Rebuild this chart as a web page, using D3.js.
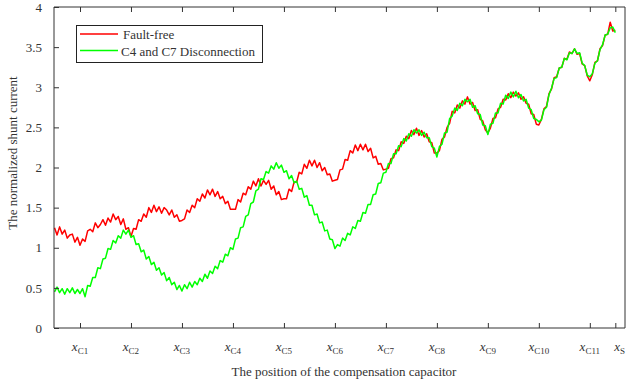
<!DOCTYPE html>
<html>
<head>
<meta charset="utf-8">
<script src="https://cdn.jsdelivr.net/npm/d3@7/dist/d3.min.js"></script>
<style>
  html, body { margin: 0; padding: 0; background: #fff; }
  svg { display: block; }
  text { font-family: "Liberation Serif", "Times New Roman", serif; fill: #333; }
</style>
</head>
<body>
<svg id="chart" width="626" height="382"></svg>
<script>
// Normalized shunt current sampled along the line, every 0.05 of a capacitor spacing,
// starting half a spacing before x_C1.
const sampleStart = 0.5;
const sampleStep = 0.05;

const faultFree = [
  1.25,1.16,1.26,1.17,1.22,1.12,1.16,1.17,1.07,1.13,1.03,1.11,1.08,1.21,1.23,1.20,1.31,1.25,1.29,1.35,
  1.28,1.37,1.32,1.42,1.35,1.39,1.29,1.36,1.23,1.25,1.14,1.24,1.23,1.35,1.33,1.42,1.38,1.50,1.44,1.53,
  1.45,1.51,1.43,1.50,1.47,1.41,1.47,1.38,1.41,1.33,1.34,1.36,1.47,1.44,1.53,1.50,1.61,1.58,1.67,1.62,
  1.72,1.66,1.73,1.64,1.70,1.61,1.64,1.55,1.58,1.48,1.48,1.48,1.60,1.57,1.68,1.66,1.76,1.73,1.83,1.77,
  1.86,1.77,1.84,1.79,1.84,1.73,1.77,1.66,1.70,1.60,1.61,1.61,1.73,1.70,1.82,1.82,1.94,1.92,2.04,1.99,
  2.09,2.02,2.09,2.00,2.06,1.96,2.00,1.91,1.92,1.83,1.84,1.85,1.97,1.98,2.10,2.09,2.21,2.18,2.28,2.21,
  2.29,2.22,2.29,2.20,2.24,2.12,2.14,2.04,2.05,1.97,1.98,1.99,2.11,2.12,2.22,2.21,2.32,2.30,2.39,2.36,
  2.46,2.41,2.49,2.40,2.46,2.38,2.42,2.32,2.31,2.18,2.18,2.21,2.35,2.38,2.50,2.55,2.70,2.68,2.78,2.74,
  2.83,2.79,2.88,2.79,2.81,2.71,2.72,2.60,2.58,2.47,2.43,2.49,2.61,2.62,2.73,2.75,2.85,2.84,2.92,2.87,
  2.94,2.89,2.93,2.85,2.88,2.80,2.79,2.67,2.66,2.54,2.53,2.60,2.73,2.76,2.92,2.98,3.12,3.13,3.24,3.25,
  3.36,3.35,3.44,3.42,3.48,3.41,3.42,3.29,3.27,3.14,3.08,3.16,3.31,3.33,3.48,3.52,3.65,3.66,3.81,3.70,
  3.71
];

const c4c7Disconnected = [
  0.45,0.51,0.44,0.49,0.42,0.49,0.44,0.50,0.43,0.48,0.43,0.49,0.39,0.53,0.52,0.63,0.63,0.75,0.74,0.86,
  0.87,0.99,0.98,1.09,1.06,1.15,1.12,1.22,1.17,1.22,1.13,1.15,1.04,1.05,0.95,0.97,0.86,0.89,0.79,0.82,
  0.72,0.75,0.66,0.69,0.59,0.63,0.54,0.57,0.48,0.53,0.46,0.54,0.49,0.57,0.51,0.58,0.54,0.62,0.58,0.67,
  0.62,0.71,0.68,0.77,0.74,0.84,0.82,0.92,0.90,1.00,0.98,1.11,1.12,1.25,1.26,1.39,1.41,1.55,1.57,1.71,
  1.73,1.86,1.85,1.95,1.93,2.02,1.98,2.06,1.99,2.03,1.94,1.96,1.86,1.90,1.81,1.83,1.73,1.74,1.63,1.65,
  1.53,1.53,1.41,1.42,1.31,1.32,1.21,1.22,1.11,1.10,0.99,1.04,1.02,1.12,1.09,1.18,1.16,1.26,1.24,1.34,
  1.33,1.44,1.43,1.54,1.54,1.66,1.67,1.80,1.81,1.93,1.94,2.05,2.05,2.17,2.17,2.27,2.26,2.36,2.33,2.42,
  2.39,2.47,2.43,2.47,2.40,2.44,2.37,2.37,2.26,2.24,2.13,2.26,2.29,2.43,2.44,2.61,2.64,2.74,2.71,2.80,
  2.77,2.85,2.82,2.85,2.75,2.77,2.67,2.66,2.53,2.52,2.41,2.54,2.55,2.68,2.68,2.80,2.79,2.90,2.86,2.94,
  2.88,2.95,2.87,2.91,2.83,2.85,2.74,2.72,2.61,2.60,2.57,2.59,2.72,2.75,2.91,2.99,3.11,3.12,3.24,3.25,
  3.36,3.34,3.43,3.42,3.48,3.42,3.43,3.30,3.27,3.15,3.13,3.17,3.30,3.33,3.47,3.53,3.65,3.66,3.74,3.75,
  3.68
];

const seriesNames = ["Fault-free", "C4 and C7 Disconnection"];
const seriesColors = ["#ff0000", "#00ff00"];

// Capacitor positions on the x axis (x_C1 ... x_C11, then the line end)
const tickPositions = [1, 2, 3, 4, 5, 6, 7, 8, 9, 10, 11, 11.5];
const tickSubscripts = ["C1","C2","C3","C4","C5","C6","C7","C8","C9","C10","C11","S"];
const yTicks = [0, 0.5, 1, 1.5, 2, 2.5, 3, 3.5, 4];

const margin = { left: 54, top: 7, right: 1, bottom: 54 };
const W = 626, H = 382;
const svg = d3.select("#chart");

const x = d3.scaleLinear().domain([0.49, 11.69]).range([margin.left, W - margin.right]);
const y = d3.scaleLinear().domain([0, 4]).range([H - margin.bottom, margin.top]);

const plotL = x.range()[0], plotR = x.range()[1];
const plotT = y.range()[1], plotB = y.range()[0];

// Curves
const toPoints = vals => vals.map((v, i) => [sampleStart + i * sampleStep, v]);
const line = d3.line().x(d => x(d[0])).y(d => y(d[1]));

const g = svg.append("g");
[faultFree, c4c7Disconnected].forEach((vals, k) => {
  g.append("path")
    .datum(toPoints(vals))
    .attr("fill", "none")
    .attr("stroke", seriesColors[k])
    .attr("stroke-width", 1.5)
    .attr("stroke-linejoin", "round")
    .attr("d", line);
});

// Box frame
const axisColor = "#333";
svg.append("path")
  .attr("d", `M${plotL},${plotT}H${plotR}V${plotB}H${plotL}Z`)
  .attr("fill", "none").attr("stroke", axisColor).attr("stroke-width", 1);

// Bottom axis: inward ticks, custom labels
const xAxisB = d3.axisBottom(x).tickValues(tickPositions).tickSize(-5).tickFormat("");
svg.append("g").attr("transform", `translate(0,${plotB})`).call(xAxisB)
  .call(s => s.select(".domain").remove())
  .call(s => s.selectAll(".tick line").attr("stroke", axisColor));
const xAxisT = d3.axisTop(x).tickValues(tickPositions).tickSize(-5).tickFormat("");
svg.append("g").attr("transform", `translate(0,${plotT})`).call(xAxisT)
  .call(s => s.select(".domain").remove())
  .call(s => s.selectAll(".tick line").attr("stroke", axisColor));

// Tick labels: italic x with a subscript; the last one starts at its tick
const last = tickPositions.length - 1;
const xl = svg.append("g").selectAll("text").data(tickPositions).join("text")
  .attr("x", (d, i) => i === last ? x(d) - 1 : x(d))
  .attr("y", plotB + 23)
  .attr("text-anchor", (d, i) => i === last ? "start" : "middle")
  .style("font-size", "13px");
xl.append("tspan").style("font-style", "italic").text("x");
xl.append("tspan").attr("dy", 3).style("font-size", "9px").text((d, i) => tickSubscripts[i]);

// Left axis
const yAxis = d3.axisLeft(y).tickValues(yTicks).tickSize(-5).tickPadding(12).tickFormat(d3.format("~g"));
svg.append("g").attr("transform", `translate(${plotL},0)`).call(yAxis)
  .call(s => s.select(".domain").remove())
  .call(s => s.selectAll(".tick line").attr("stroke", axisColor))
  .call(s => s.selectAll(".tick text")
    .style("font-family", '"Liberation Serif", serif')
    .style("font-size", "13px").attr("fill", "#333"));

// Axis titles
svg.append("text")
  .attr("transform", `translate(17,153) rotate(-90)`)
  .attr("text-anchor", "middle")
  .style("font-size", "13px")
  .text("The normalized shunt current");
svg.append("text")
  .attr("x", 344).attr("y", 376)
  .attr("text-anchor", "middle")
  .style("font-size", "13px")
  .text("The position of the compensation capacitor");

// Legend
const lg = svg.append("g");
lg.append("rect").attr("x", 76.5).attr("y", 25.5).attr("width", 186).attr("height", 37)
  .attr("fill", "#fff").attr("stroke", "#222").attr("stroke-width", 1);
seriesNames.forEach((name, k) => {
  const yy = 34 + k * 16.5;
  lg.append("line").attr("x1", 80).attr("x2", 118).attr("y1", yy).attr("y2", yy)
    .attr("stroke", seriesColors[k]).attr("stroke-width", 1.5);
  lg.append("text").attr("x", k === 0 ? 123 : 121).attr("y", yy + 5)
    .style("font-size", "13px").attr("fill", "#222").text(name);
});
</script>
</body>
</html>
